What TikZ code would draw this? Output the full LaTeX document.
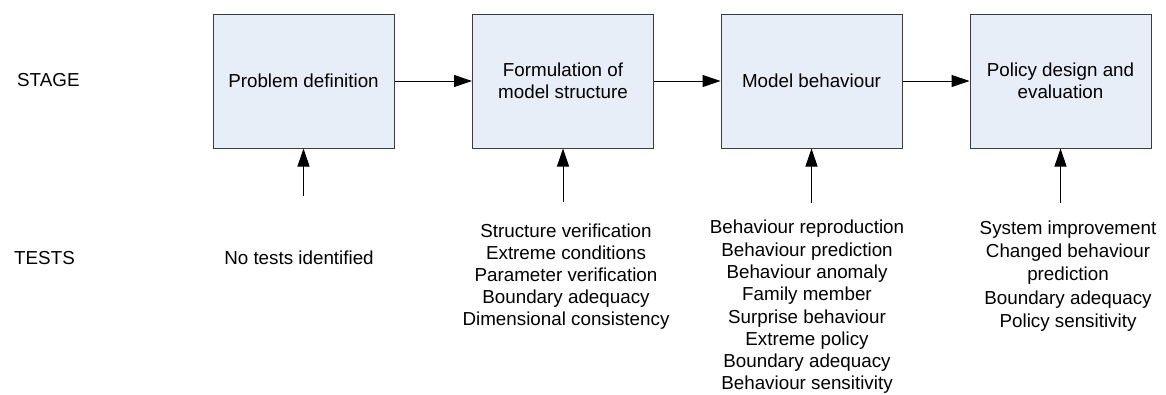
\documentclass[tikz,border=0pt]{standalone}
\usepackage{fontspec}
\setmainfont{Liberation Sans}
\usetikzlibrary{arrows.meta}
\definecolor{boxfill}{RGB}{232,238,248}
\definecolor{boxline}{RGB}{60,60,60}
\tikzset{
  stagebox/.style={draw=boxline, fill=boxfill, line width=1pt,
    minimum width=181pt, minimum height=134pt, align=center, inner sep=0pt},
  flow/.style={-{Triangle[length=18pt,width=12pt]}, line width=1pt},
  testlist/.style={align=center, anchor=north, inner sep=0pt,
    font=\fontsize{18.8}{#1}\selectfont},
  testlist/.default=22.3,
}
\begin{document}
\begin{tikzpicture}[x=1pt,y=-1pt,font=\fontsize{18.8}{22.3}\selectfont]
  \useasboundingbox (0,0) rectangle (1166,394);
  % row labels
  \node[anchor=west,inner sep=0pt] (stage) at (17,80) {STAGE};
  \node[anchor=west,inner sep=0pt] (tests) at (14,258) {TESTS};
  % stages
  \node[stagebox] (problem) at (303.5,81) {Problem definition};
  \node[stagebox] (formulation) at (563,81) {Formulation of\\model structure};
  \node[stagebox] (behaviour) at (811.5,81) {Model behaviour};
  \node[stagebox] (policy) at (1060.5,81) {Policy design and\\evaluation};
  \draw[flow] (problem) -- (formulation);
  \draw[flow] (formulation) -- (behaviour);
  \draw[flow] (behaviour) -- (policy);
  % tests
  \coordinate (tproblem) at (303.5,196);
  \coordinate (tformulation) at (563,202);
  \coordinate (tbehaviour) at (811.5,203);
  \coordinate (tpolicy) at (1060.5,203);
  \draw[flow] (tproblem) -- (problem);
  \draw[flow] (tformulation) -- (formulation);
  \draw[flow] (tbehaviour) -- (behaviour);
  \draw[flow] (tpolicy) -- (policy);
  \node[inner sep=0pt] (noproblem) at (299,258) {No tests identified};
  \node[testlist=21.8] (listformulation) at (566,224) {Structure verification\\Extreme conditions\\Parameter verification\\Boundary adequacy\\Dimensional consistency};
  \node[testlist=22.3] (listbehaviour) at (807,220) {Behaviour reproduction\\Behaviour prediction\\Behaviour anomaly\\Family member\\Surprise behaviour\\Extreme policy\\Boundary adequacy\\Behaviour sensitivity};
  \node[testlist=23.3] (listpolicy) at (1068,220.5) {System improvement\\Changed behaviour\\prediction\\Boundary adequacy\\Policy sensitivity};
\end{tikzpicture}
\end{document}
